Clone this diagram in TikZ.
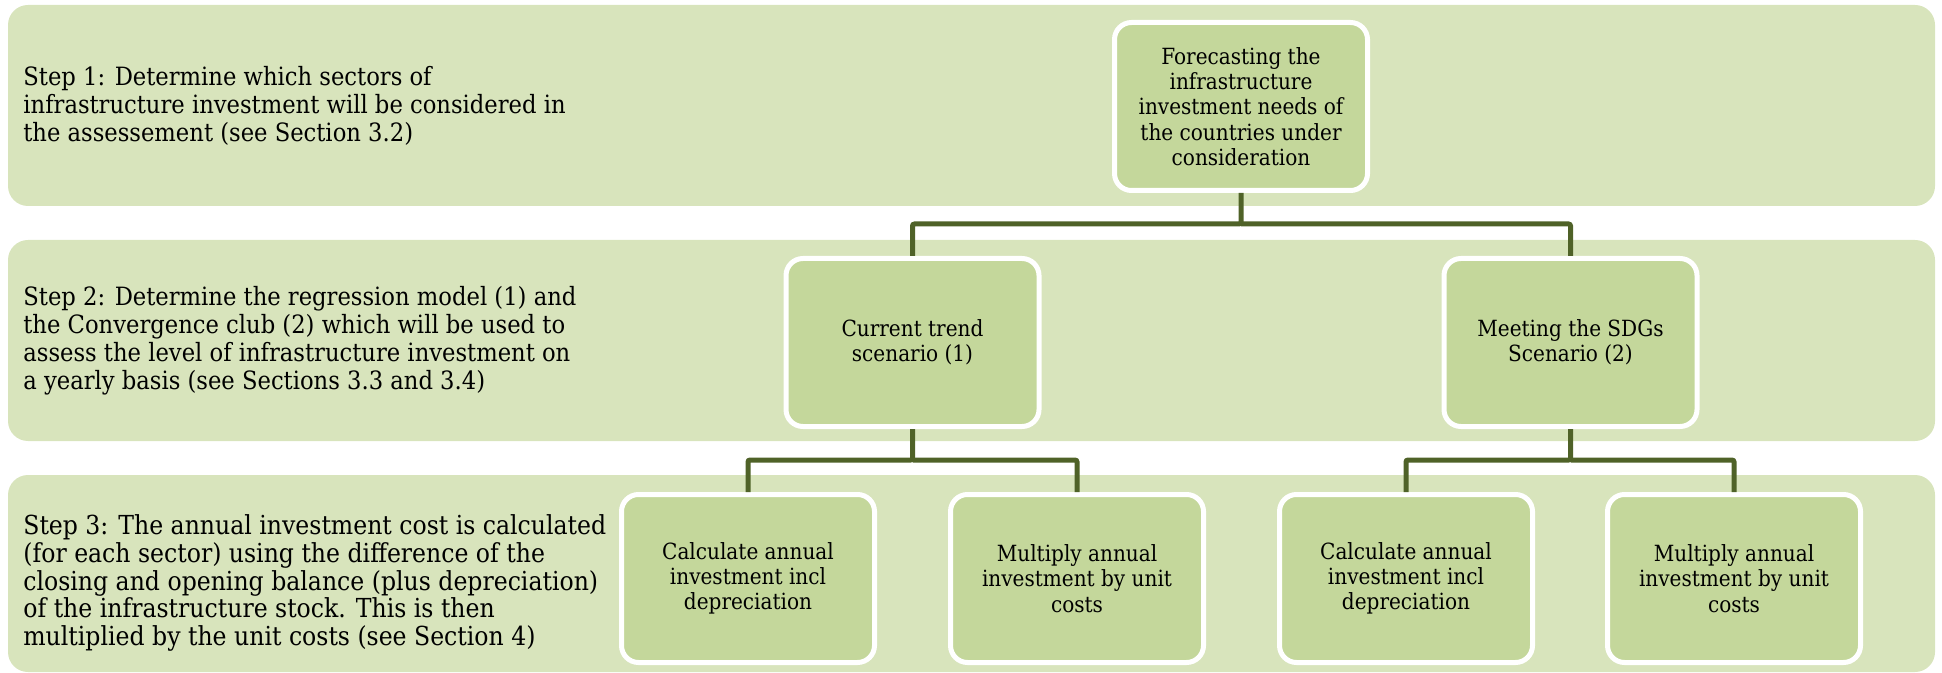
\documentclass[tikz,border=0pt]{standalone}
\usepackage{fontspec}
\setmainfont{DejaVu Serif Condensed}
\definecolor{bandfill}{HTML}{D8E4BC}
\definecolor{boxfill}{HTML}{C4D79B}
\definecolor{linecol}{HTML}{4F6228}
\definecolor{textcol}{HTML}{000000}
\newcommand\stepfont{\fontsize{12.6pt}{14pt}\selectfont}
\newcommand\stepfontb{\fontsize{13.1pt}{13.8pt}\selectfont}
\newcommand\boxfont{\fontsize{11.15pt}{12.65pt}\selectfont}
\begin{document}
\begin{tikzpicture}[x=0.5pt,y=-0.5pt,
  band/.style={fill=bandfill, draw=none, rounded corners=10pt},
  box/.style={rectangle, rounded corners=8.5pt, fill=boxfill, draw=white, line width=2.5pt,
    minimum width=126.5pt, minimum height=84pt, align=center, font=\boxfont, text=textcol, inner sep=0pt},
  steptext/.style={anchor=west, align=left, font=\stepfont, text=textcol, inner sep=0pt},
  conn/.style={draw=linecol, line width=2.5pt, rounded corners=1pt}
]
\useasboundingbox (0,0) rectangle (1942,673);
% bands
\fill[band] (8,5) rectangle (1935,206);
\fill[band] (8,240) rectangle (1935,441);
\fill[band] (8,475) rectangle (1935,672);
% step texts
\node[steptext] (s1) at (23,106) {Step 1: Determine which sectors of\\infrastructure investment will be considered in\\the assessement (see Section 3.2)};
\node[steptext] (s2) at (23,341) {Step 2: Determine the regression model (1) and\\the Convergence club (2) which will be used to\\assess the level of infrastructure investment on\\a yearly basis (see Sections 3.3 and 3.4)};
\node[steptext, font=\stepfontb] (s3) at (23,583) {Step 3: The annual investment cost is calculated\\(for each sector) using the difference of the\\closing and opening balance (plus depreciation)\\of the infrastructure stock. This is then\\multiplied by the unit costs (see Section 4)};
% boxes
\node[box] (top) at (1241,106.5) {Forecasting the\\infrastructure\\investment needs of\\the countries under\\consideration};
\node[box] (cur) at (912.5,342.5) {Current trend\\scenario (1)};
\node[box] (sdg) at (1570.5,342.5) {Meeting the SDGs\\Scenario (2)};
\node[box] (a) at (748,578.5) {Calculate annual\\investment incl\\depreciation};
\node[box] (b) at (1077,578.5) {Multiply annual\\investment by unit\\costs};
\node[box] (c) at (1406,578.5) {Calculate annual\\investment incl\\depreciation};
\node[box] (d) at (1734,578.5) {Multiply annual\\investment by unit\\costs};
% connectors
\draw[conn] (top.south) -- (top.south |- 0,224) -| (cur.north);
\draw[conn] (top.south |- 0,224) -| (sdg.north);
\draw[conn] (cur.south) -- (cur.south |- 0,460) -| (a.north);
\draw[conn] (cur.south |- 0,460) -| (b.north);
\draw[conn] (sdg.south) -- (sdg.south |- 0,460) -| (c.north);
\draw[conn] (sdg.south |- 0,460) -| (d.north);
\end{tikzpicture}
\end{document}
